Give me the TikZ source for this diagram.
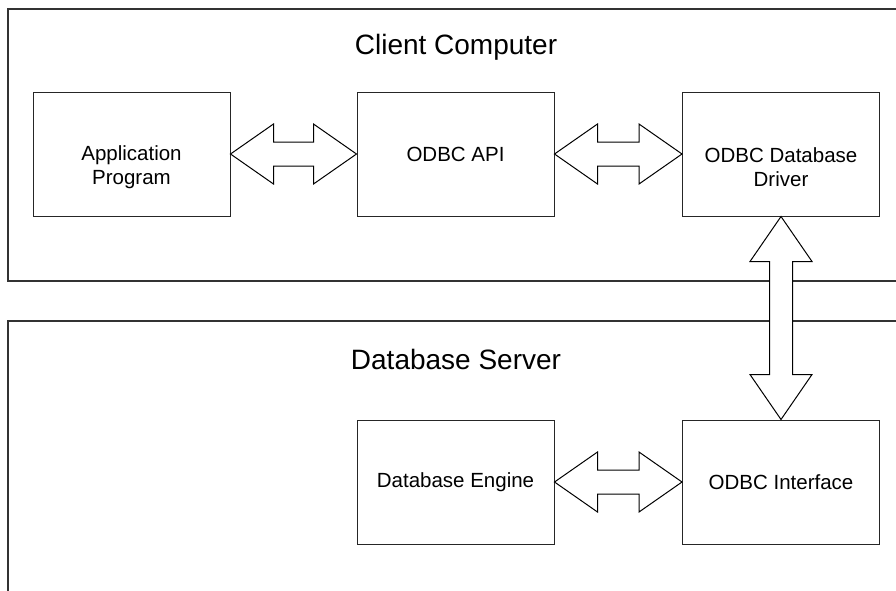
\documentclass[tikz,border=0pt]{standalone}
\usepackage{fontspec}
\setmainfont{Liberation Sans}
\usetikzlibrary{calc}
\begin{document}
\begin{tikzpicture}[x=1pt,y=-1pt,
  block/.style={draw=black!85,line width=1pt,minimum width=197pt,minimum height=124pt,
    inner sep=0pt,align=center,font=\fontsize{20.5}{24}\selectfont},
  twoline/.style={label={[font=\fontsize{20.5}{24}\selectfont,align=center,yshift=-13pt]center:#1}},
  frame/.style={draw=black!80,line width=1.5pt},
  title/.style={font=\fontsize{28}{32}\selectfont},
  fatarrow/.style={draw=black,line width=1pt,fill=white,line join=miter}]
\useasboundingbox (0,0) rectangle (896,590);
\clip (0,0) rectangle (896,590);

% enclosing machines (open at the right and bottom)
\draw[frame] (900,9) -- (8,9) -- (8,281) -- (900,281);
\draw[frame] (900,321) -- (8,321) -- (8,592);
\node[title] (client) at (456,47) {Client Computer};
\node[title] (server) at (456,359) {Database Server};

% components (two-line captions sit a little below the box centre)
\node[block,twoline={Application\\Program}] (app) at (131.5,154) {};
\node[block] (api) at (455.5,154) {ODBC API};
\node[block,twoline={ODBC Database\\Driver}] (drv) at (781,154) {};
\node[block] (eng) at (455.5,482) {Database Engine};
\node[block] (ifc) at (781,482) {ODBC Interface};

% horizontal double block arrows
\foreach \a/\b in {app/api, api/drv, eng/ifc}{
  \draw[fatarrow] (\a.east) -- ++(43,-30) -- ++(0,18)
    -- ($(\b.west)+(-43,-12)$) -- ++(0,-18) -- (\b.west)
    -- ++(-43,30) -- ++(0,-18) -- ($(\a.east)+(43,12)$) -- ++(0,18) -- cycle;
}

% vertical double block arrow between client and server
\draw[fatarrow] (drv.south) -- ++(31,45) -- ++(-19.5,0)
  -- ($(ifc.north)+(11.5,-45)$) -- ++(19.5,0) -- (ifc.north)
  -- ++(-31,-45) -- ++(19.5,0) -- ($(drv.south)+(-11.5,45)$) -- ++(-19.5,0) -- cycle;
\end{tikzpicture}
\end{document}
